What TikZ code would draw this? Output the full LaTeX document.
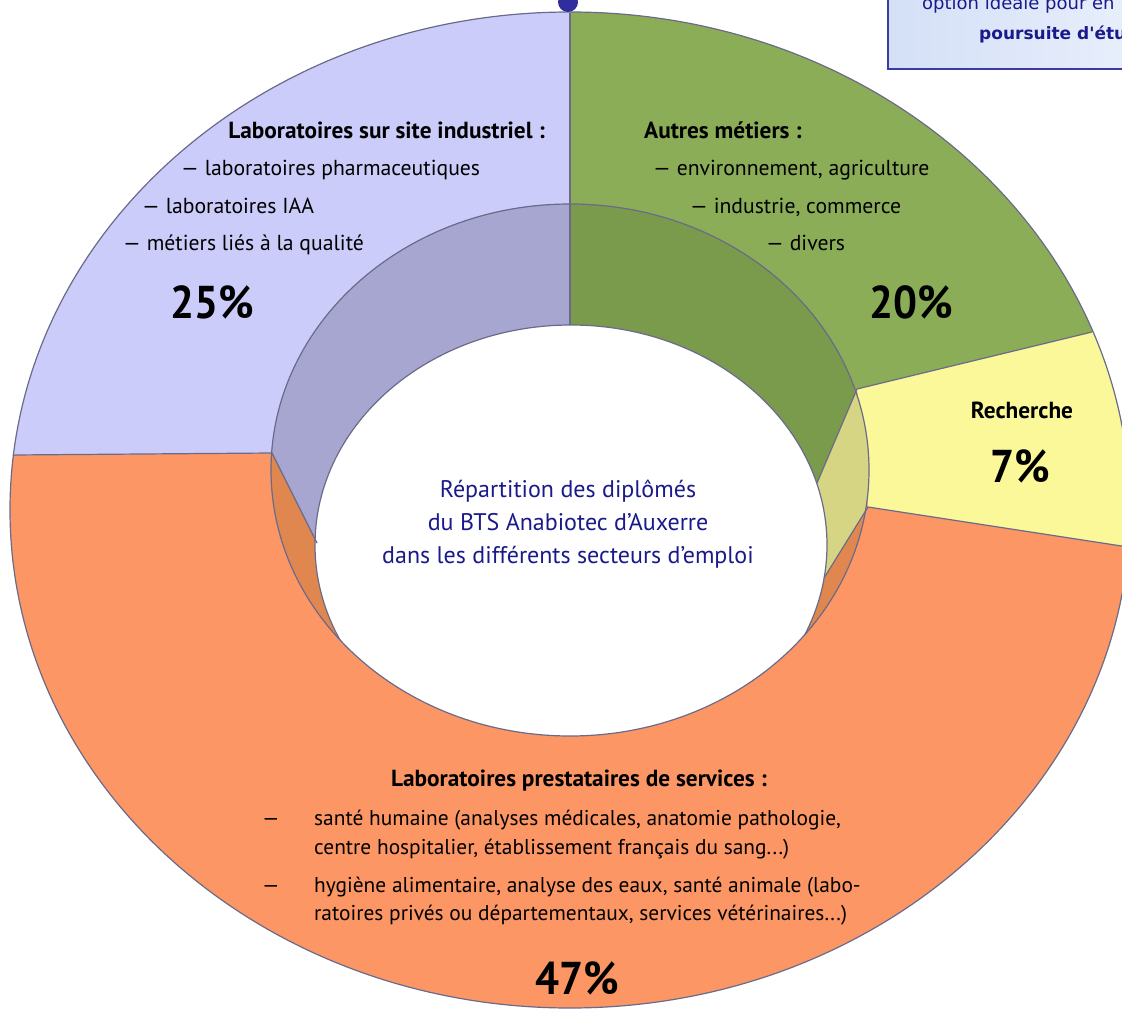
\documentclass[tikz,border=0pt]{standalone}
\usepackage{fontspec}
\usepackage{graphicx}
\setmainfont{PT Sans}
\newfontfamily\boxfont{DejaVu Sans}
\usetikzlibrary{calc}
\definecolor{faceP}{RGB}{204,204,250}
\definecolor{wallP}{RGB}{166,166,208}
\definecolor{faceG}{RGB}{139,173,88}
\definecolor{wallG}{RGB}{122,155,75}
\definecolor{faceY}{RGB}{250,248,152}
\definecolor{wallY}{RGB}{214,213,132}
\definecolor{faceO}{RGB}{252,150,100}
\definecolor{wallO}{RGB}{224,135,80}
\definecolor{lineC}{RGB}{106,106,138}
\definecolor{navy}{RGB}{26,26,138}
\definecolor{dotC}{RGB}{46,46,158}
\definecolor{boxB}{RGB}{60,60,160}
\definecolor{boxL}{RGB}{212,224,247}
\definecolor{boxR}{RGB}{234,240,252}
\tikzset{
  edge/.style={draw=lineC, line width=1.2pt},
  lbl/.style={font=\fontsize{21.7}{25}\selectfont, text=black, inner sep=0pt},
  lblo/.style={font=\fontsize{21.4}{25}\selectfont, text=black, inner sep=0pt},
  lblb/.style={font=\bfseries\fontsize{23.3}{27}\selectfont, text=black, inner sep=0pt},
  pct/.style={font=\bfseries\fontsize{46}{50}\selectfont, text=black, inner sep=0pt},
  ctr/.style={font=\fontsize{24}{28}\selectfont, text=navy, inner sep=0pt},
  boxtxt/.style={font=\boxfont\fontsize{18}{21}\selectfont, text=navy, inner sep=0pt},
  boxtxtb/.style={font=\boxfont\bfseries\fontsize{17}{20}\selectfont, text=navy, inner sep=0pt},
}
\newcommand{\narrowpct}[1]{\scalebox{0.92}[1]{#1}}
\def\Oell{(570,510) ellipse [x radius=560pt, y radius=498pt]}
\def\Eone{(570,470) ellipse [x radius=299pt, y radius=266pt]}
\def\Etwo{(571,545) ellipse [x radius=256pt, y radius=220pt]}
\begin{document}
\begin{tikzpicture}[x=1pt,y=-1pt]
\useasboundingbox (0,0) rectangle (1122,1011);
\clip (0,0) rectangle (1122,1011);
% key points: outer ellipse (o), top-face inner edge (a), hole edge (b)
\coordinate (oT) at (570,13);   \coordinate (aT) at (570,204);  \coordinate (bT) at (570,325);
\coordinate (oPO) at (13,455);  \coordinate (aPO) at (272,453); \coordinate (bPO) at (317,543);
\coordinate (oGY) at (1092,332);\coordinate (aGY) at (857,389); \coordinate (bGY) at (817,483);
\coordinate (oYO) at (1128,547);\coordinate (aYO) at (868,507); \coordinate (bYO) at (824,578);
% top face
\fill[faceO] \Oell;
\begin{scope}
  \clip \Oell;
  \fill[faceP] (570,-60) -- (aT) -- (aPO) -- (oPO) -- ($(aPO)!1.3!(oPO)$) -- (-60,-60) -- cycle;
  \fill[faceG] (570,-60) -- (aT) -- (aGY) -- (oGY) -- ($(aGY)!1.5!(oGY)$) -- (1300,-60) -- cycle;
  \fill[faceY] ($(aGY)!1.5!(oGY)$) -- (oGY) -- (aGY) -- (aYO) -- (oYO) -- ($(aYO)!1.5!(oYO)$) -- cycle;
\end{scope}
% inner wall and hole
\fill[wallO] \Eone;
\begin{scope}
  \clip \Eone;
  \fill[wallP] (570,150) -- (570,330) -- ($(aPO)!1.5!(bPO)$) -- ($(aPO)!-0.5!(bPO)$) -- (240,150) -- cycle;
  \fill[wallG] (570,150) -- (570,330) -- ($(aGY)!1.4!(bGY)$) -- ($(aGY)!-0.7!(bGY)$) -- (890,150) -- cycle;
  \fill[wallY] ($(aGY)!-0.7!(bGY)$) -- ($(aGY)!1.4!(bGY)$) -- ($(aYO)!1.4!(bYO)$) -- ($(aYO)!-0.7!(bYO)$) -- cycle;
  \fill[white] \Etwo;
\end{scope}
% outlines
\draw[edge] \Oell;
\draw[edge] \Eone;
\begin{scope}
  \clip \Eone;
  \draw[edge] \Etwo;
\end{scope}
\draw[edge] (oT) -- (aT) -- (bT);
\draw[edge] (oPO) -- (aPO) -- (bPO);
\draw[edge] (oGY) -- (aGY) -- (bGY);
\draw[edge] (oYO) -- (aYO) -- (bYO);
% dot and box
\fill[dotC] (568,2) circle (10pt);
\draw[boxB, line width=2pt, left color=boxL, right color=boxR] (888,-20) rectangle (1160,69);
\node[boxtxt, anchor=base west] (box1) at (922,10) {option idéale pour en};
\node[boxtxtb, anchor=base west] (box2) at (979,40) {poursuite d'étu};
% purple sector
\node[lblb, anchor=base east] (pHead) at (545,139) {Laboratoires sur site industriel :};
\node[lbl, anchor=base west] (p1) at (181,176) {— laboratoires pharmaceutiques};
\node[lbl, anchor=base west] (p2) at (142,214) {— laboratoires IAA};
\node[lbl, anchor=base west] (p3) at (123,251) {— métiers liés à la qualité};
\node[pct, anchor=base] (pPct) at (212,318) {\narrowpct{25\%}};
% green sector
\node[lblb, anchor=base west] (gHead) at (644,139) {Autres métiers :};
\node[lbl, anchor=base west] (g1) at (653,176) {— environnement, agriculture};
\node[lbl, anchor=base west] (g2) at (690,214) {— industrie, commerce};
\node[lbl, anchor=base west] (g3) at (766,251) {— divers};
\node[pct, anchor=base] (gPct) at (911,318) {\narrowpct{20\%}};
% yellow sector
\node[lblb, anchor=base] (yHead) at (1022,418) {Recherche};
\node[pct, anchor=base] (yPct) at (1020,482) {\narrowpct{7\%}};
% centre
\node[ctr, anchor=base] (c1) at (568,497) {Répartition des diplômés};
\node[ctr, anchor=base] (c2) at (568,530) {du BTS Anabiotec d’Auxerre};
\node[ctr, anchor=base] (c3) at (568,563) {dans les différents secteurs d’emploi};
% orange sector
\node[lblb, anchor=base] (oHead) at (579,786) {Laboratoires prestataires de services :};
\node[lblo, anchor=base west] (od1) at (262,825) {—};
\node[lblo, anchor=base west] (o1a) at (314,825) {santé humaine (analyses médicales, anatomie pathologie,};
\node[lblo, anchor=base west] (o1b) at (314,854) {centre hospitalier, établissement français du sang...)};
\node[lblo, anchor=base west] (od2) at (262,892) {—};
\node[lblo, anchor=base west] (o2a) at (314,892) {hygiène alimentaire, analyse des eaux, santé animale (labo-};
\node[lblo, anchor=base west] (o2b) at (314,920) {ratoires privés ou départementaux, services vétérinaires...)};
\node[pct, anchor=base] (oPct) at (577,994) {\narrowpct{47\%}};
\end{tikzpicture}
\end{document}
